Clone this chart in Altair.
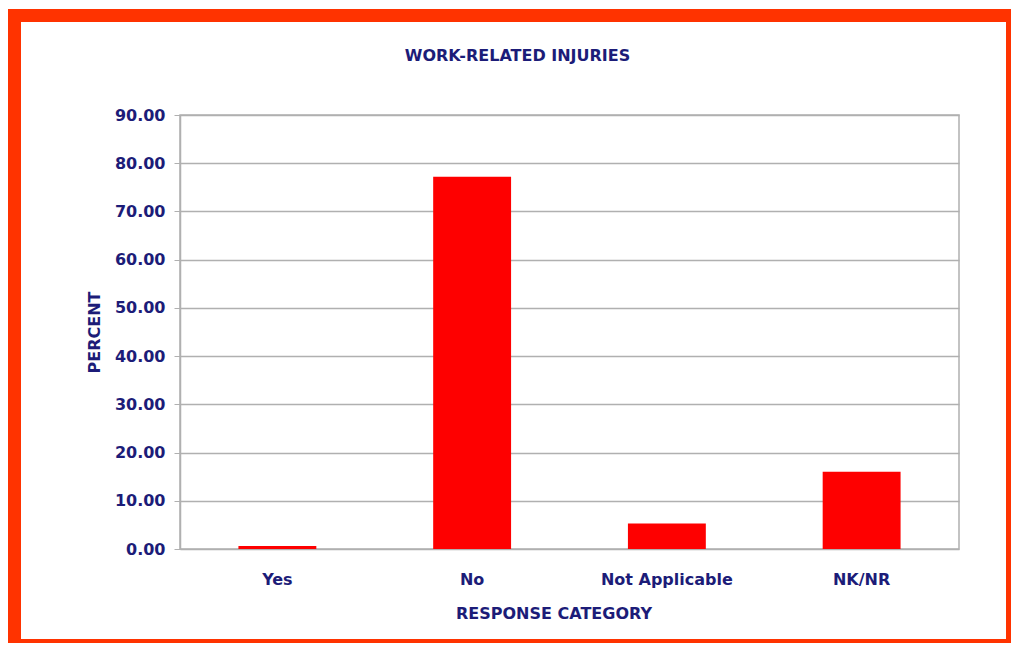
import altair as alt
import pandas as pd

categories = ["Yes", "No", "Not Applicable", "NK/NR"]
percent = [0.6, 77.2, 5.3, 16.0]
y_ticks = [0, 10, 20, 30, 40, 50, 60, 70, 80, 90]
chart_title = "WORK-RELATED INJURIES"

df = pd.DataFrame({"category": categories, "percent": percent})

NAVY = "#1c1c78"
FONT = "DejaVu Sans"
GRID = "#b0b0b0"
FS = 16

bars = alt.Chart(df).mark_bar(color="#fe0000").encode(
    x=alt.X(
        "category:N",
        sort=categories,
        scale=alt.Scale(paddingInner=0.6, paddingOuter=0.3),
        axis=alt.Axis(
            title="RESPONSE CATEGORY",
            labelAngle=0,
            ticks=False,
            domain=False,
            labelPadding=30,
            labelBaseline="middle",
            titleX=373.5,
            titleY=64,
            titleBaseline="middle",
            titleAnchor="start",
            titleAlign="center",
        ),
    ),
    y=alt.Y(
        "percent:Q",
        scale=alt.Scale(domain=[0, 90], nice=False),
        axis=alt.Axis(
            title="PERCENT",
            values=y_ticks,
            format=".2f",
            grid=True,
            gridColor=GRID,
            gridWidth=1.5,
            domain=True,
            domainColor=GRID,
            domainWidth=1.5,
            tickColor=GRID,
            tickSize=6,
            labelPadding=9,
            titleX=-86,
            titleY=217,
            titleAlign="center",
            titleBaseline="middle",
            titleAnchor="start",
        ),
    ),
)

title_mark = alt.Chart(alt.Data(values=[{"t": chart_title}])).mark_text(
    font=FONT, fontSize=FS, fontWeight="bold", color=NAVY,
    align="center", baseline="middle",
).encode(text="t:N", x=alt.value(337.5), y=alt.value(-59))

side = alt.Data(values=[{"a": 1}])
BORDER = "#ff3300"
# decorative frame around the whole picture (pixel positions relative to plot origin)
frame_specs = [
    (-172, -159, -106, 528),   # left
    (-172, 831, -106, -93),    # top
    (826, 831, -106, 528),     # right
    (-172, 831, 524, 528),     # bottom
]
frames = [
    alt.Chart(side).mark_rect(color=BORDER).encode(
        x=alt.value(x1), x2=alt.value(x2), y=alt.value(y1), y2=alt.value(y2)
    )
    for (x1, x2, y1, y2) in frame_specs
]

chart = alt.layer(bars, title_mark, *frames).properties(
    width=779,
    height=434,
    background="white",
    autosize=alt.AutoSizeParams(type="none"),
    padding={"left": 172, "top": 107, "right": 52, "bottom": 94},
).configure_axis(
    labelFont=FONT,
    labelFontSize=FS,
    labelFontWeight="bold",
    labelColor=NAVY,
    titleFont=FONT,
    titleFontSize=FS,
    titleFontWeight="bold",
    titleColor=NAVY,
).configure_view(
    stroke=GRID,
    strokeWidth=1.5,
)

chart.save("out.html", embed_options={"renderer": "svg", "actions": False})
